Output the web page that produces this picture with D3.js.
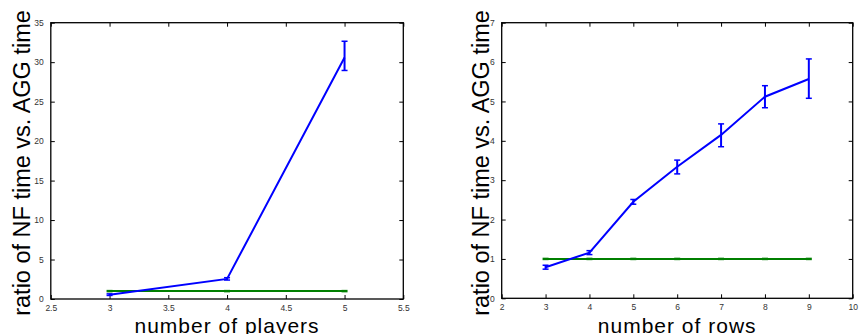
<!DOCTYPE html>
<html><head><meta charset="utf-8">
<script src="https://cdn.jsdelivr.net/npm/d3@7"></script>
<style>body{margin:0;background:#fff}svg{display:block}</style>
</head><body>
<script>
// Left panel data
const playersX = [3, 4, 5];
const playersNF = [0.55, 2.55, 30.6];
const playersLow = [0.45, 2.4, 28.95];
const playersHigh = [0.65, 2.7, 32.65];
const playersAGG = [1, 1, 1];
const playersXTicks = [2.5, 3, 3.5, 4, 4.5, 5, 5.5];
const playersYTicks = [0, 5, 10, 15, 20, 25, 30, 35];

// Right panel data
const rowsX = [3, 4, 5, 6, 7, 8, 9];
const rowsNF = [0.79, 1.16, 2.45, 3.34, 4.15, 5.12, 5.57];
const rowsLow = [0.74, 1.11, 2.39, 3.16, 3.85, 4.84, 5.08];
const rowsHigh = [0.84, 1.21, 2.51, 3.51, 4.43, 5.40, 6.08];
const rowsAGG = [1, 1, 1, 1, 1, 1, 1];
const rowsXTicks = [2, 3, 4, 5, 6, 7, 8, 9, 10];
const rowsYTicks = [0, 1, 2, 3, 4, 5, 6, 7];

const yLabel = "ratio of NF time vs. AGG time";

const svg = d3.select("body").append("svg").attr("width", 859).attr("height", 334);

function panel(o) {
  const g = svg.append("g");
  const x = d3.scaleLinear().domain(o.xDom).range([o.left, o.right]);
  const y = d3.scaleLinear().domain(o.yDom).range([o.bottom, o.top]);
  const tickStyle = s => {
    s.select(".domain").remove();
    s.selectAll(".tick line").attr("stroke", "#000").attr("stroke-width", 1);
    s.selectAll(".tick text").attr("fill", "#333").attr("font-family", "Liberation Sans, Arial, sans-serif").attr("font-size", 8.5);
  };
  g.append("g").attr("transform", `translate(0,${o.bottom})`)
    .call(d3.axisBottom(x).tickValues(o.xTicks).tickFormat(d3.format("~g")).tickSizeInner(-4).tickSizeOuter(0).tickPadding(6))
    .call(tickStyle);
  g.append("g").attr("transform", `translate(0,${o.top})`)
    .call(d3.axisTop(x).tickValues(o.xTicks).tickFormat("").tickSizeInner(-4).tickSizeOuter(0))
    .call(tickStyle);
  g.append("g").attr("transform", `translate(${o.left},0)`)
    .call(d3.axisLeft(y).tickValues(o.yTicks).tickFormat(d3.format("~g")).tickSizeInner(-4).tickSizeOuter(0).tickPadding(7))
    .call(tickStyle);
  g.append("g").attr("transform", `translate(${o.right},0)`)
    .call(d3.axisRight(y).tickValues(o.yTicks).tickFormat("").tickSizeInner(-4).tickSizeOuter(0))
    .call(tickStyle);
  g.append("rect").attr("x", o.left).attr("y", o.top)
    .attr("width", o.right - o.left).attr("height", o.bottom - o.top)
    .attr("fill", "none").attr("stroke", "#000").attr("stroke-width", 1.3);

  const line = d3.line().x(d => x(d[0])).y(d => y(d[1]));
  g.append("path").datum(o.xs.map((v, i) => [v, o.agg[i]])).attr("d", line)
    .attr("fill", "none").attr("stroke", "#007f00").attr("stroke-width", 2);
  g.selectAll(".gcap").data(o.xs).enter().append("line")
    .attr("x1", d => x(d) - 3).attr("x2", d => x(d) + 3)
    .attr("y1", (d, i) => y(o.agg[i])).attr("y2", (d, i) => y(o.agg[i]))
    .attr("stroke", "#007f00").attr("stroke-width", 2.5);
  g.append("path").datum(o.xs.map((v, i) => [v, o.nf[i]])).attr("d", line)
    .attr("fill", "none").attr("stroke", "#0000ff").attr("stroke-width", 2);
  const eb = g.selectAll(".eb").data(o.xs).enter().append("g");
  eb.append("line").attr("x1", d => x(d)).attr("x2", d => x(d))
    .attr("y1", (d, i) => y(o.lo[i])).attr("y2", (d, i) => y(o.hi[i]))
    .attr("stroke", "#0000ff").attr("stroke-width", 2);
  eb.append("line").attr("x1", d => x(d) - 3).attr("x2", d => x(d) + 3)
    .attr("y1", (d, i) => y(o.lo[i])).attr("y2", (d, i) => y(o.lo[i]))
    .attr("stroke", "#0000ff").attr("stroke-width", 1.5);
  eb.append("line").attr("x1", d => x(d) - 3).attr("x2", d => x(d) + 3)
    .attr("y1", (d, i) => y(o.hi[i])).attr("y2", (d, i) => y(o.hi[i]))
    .attr("stroke", "#0000ff").attr("stroke-width", 1.5);

  g.append("text").attr("x", (o.left + o.right) / 2).attr("y", 332.5)
    .attr("text-anchor", "middle").attr("font-family", "Liberation Sans, Arial, sans-serif")
    .attr("font-size", 21).attr("letter-spacing", 1).attr("fill", "#000").text(o.xLabel);
  g.append("text").attr("transform", `translate(${o.yLabX},163) rotate(-90)`)
    .attr("text-anchor", "middle").attr("font-family", "Liberation Sans, Arial, sans-serif")
    .attr("font-size", 23.5).attr("fill", "#000").text(yLabel);
}

panel({xDom: [2.5, 5.5], yDom: [0, 35], left: 50.8, right: 403.3, top: 22.7, bottom: 299,
  xTicks: playersXTicks, yTicks: playersYTicks, xs: playersX, nf: playersNF, lo: playersLow, hi: playersHigh,
  agg: playersAGG, xLabel: "number of players", yLabX: 29.5});
panel({xDom: [2, 10], yDom: [0, 7], left: 501.7, right: 852.7, top: 22.7, bottom: 298.3,
  xTicks: rowsXTicks, yTicks: rowsYTicks, xs: rowsX, nf: rowsNF, lo: rowsLow, hi: rowsHigh,
  agg: rowsAGG, xLabel: "number of rows", yLabX: 489.3});
</script>
</body></html>
